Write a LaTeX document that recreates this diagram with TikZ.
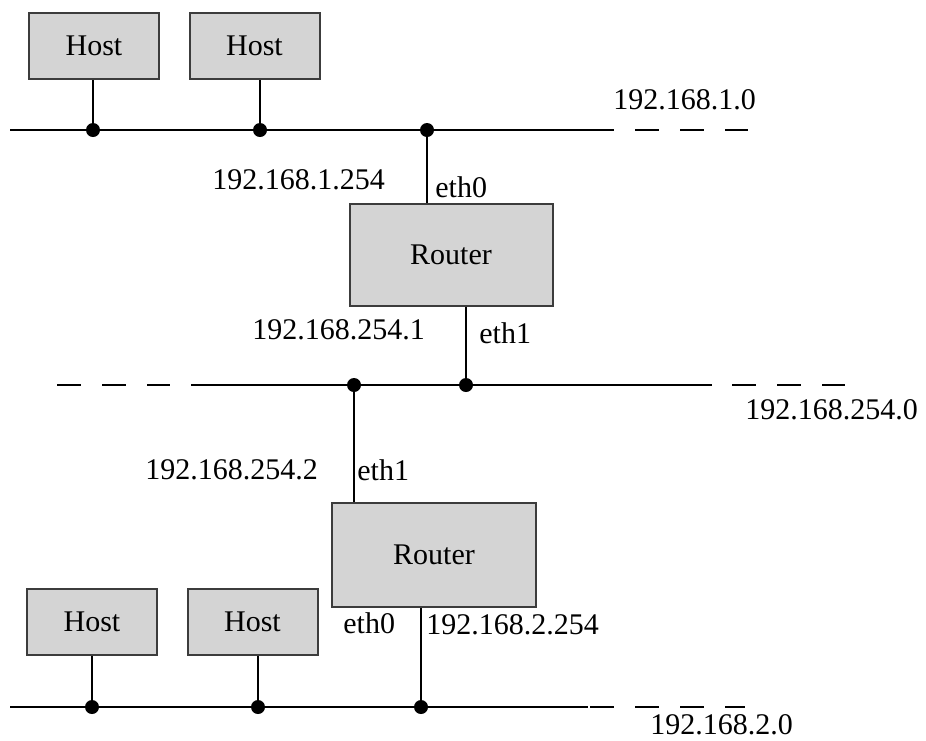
\documentclass[tikz,border=0pt]{standalone}
\usepackage{fontspec}
\setmainfont{Liberation Serif}
\usepackage{tikz}
\usetikzlibrary{positioning}
\definecolor{BoxGray}{RGB}{212,212,212}
\definecolor{EdgeGray}{RGB}{60,60,60}

\begin{document}
\begin{tikzpicture}[x=0.5pt, y=-0.5pt,
  dev/.style={draw=EdgeGray, fill=BoxGray, line width=1pt, inner sep=0pt,
              font=\fontsize{15}{18}\selectfont},
  host/.style={dev, minimum width=65pt, minimum height=33pt},
  router/.style={dev, minimum width=101.5pt, minimum height=51pt},
  bus/.style={line width=1pt},
  gap/.style={line width=1pt, dash pattern=on 12pt off 10.5pt},
  tap/.style={circle, fill=black, inner sep=0pt, minimum size=7pt},
  lbl/.style={font=\fontsize{15}{18}\selectfont, inner sep=0pt, anchor=west},
]
\useasboundingbox (0,0) rectangle (926,740);

% devices
\node[host] (hostA) at (94,46) {Host};
\node[host] (hostB) at (254.5,46) {Host};
\node[router] (rtrA) at (451,254.5) {Router};
\node[router, minimum width=102pt, minimum height=52pt] (rtrB) at (434,555) {Router};
\node[host] (hostC) at (92,622) {Host};
\node[host] (hostD) at (252.5,622) {Host};

% network 192.168.1.0
\draw[bus] (10,130) -- (614,130);
\draw[gap] (635,130) -- (748,130);
\node[tap] (tapA) at (93,130) {};
\node[tap] (tapB) at (260,130) {};
\node[tap] (tapC) at (427,130) {};

% network 192.168.254.0
\draw[gap] (57,385) -- (170,385);
\draw[bus] (191,385) -- (712,385);
\draw[gap] (732,385) -- (845,385);
\node[tap] (tapD) at (354,385) {};
\node[tap] (tapE) at (466,385) {};

% network 192.168.2.0
\draw[bus] (10,707) -- (588,707);
\draw[gap] (590,707) -- (745,707);
\node[tap] (tapF) at (92,707) {};
\node[tap] (tapG) at (258,707) {};
\node[tap] (tapH) at (421,707) {};

% links
\draw[bus] (hostA.south -| tapA) -- (tapA);
\draw[bus] (hostB.south -| tapB) -- (tapB);
\draw[bus] (tapC) -- (tapC |- rtrA.north);
\draw[bus] (rtrA.south -| tapE) -- (tapE);
\draw[bus] (tapD) -- (tapD |- rtrB.north);
\draw[bus] (rtrB.south -| tapH) -- (tapH);
\draw[bus] (hostC.south -| tapF) -- (tapF);
\draw[bus] (hostD.south -| tapG) -- (tapG);

% labels
\node[lbl] (netA) at (613,100) {192.168.1.0};
\node[lbl] (ipA) at (212,180) {192.168.1.254};
\node[lbl] (ifA) at (435,187) {eth0};
\node[lbl] (ipB) at (252,330) {192.168.254.1};
\node[lbl] (ifB) at (479,333) {eth1};
\node[lbl] (netB) at (745,410) {192.168.254.0};
\node[lbl] (ipC) at (145,470) {192.168.254.2};
\node[lbl] (ifC) at (357,470) {eth1};
\node[lbl] (ifD) at (343,623) {eth0};
\node[lbl] (ipD) at (426,625) {192.168.2.254};
\node[lbl] (netC) at (650,725) {192.168.2.0};
\end{tikzpicture}
\end{document}
